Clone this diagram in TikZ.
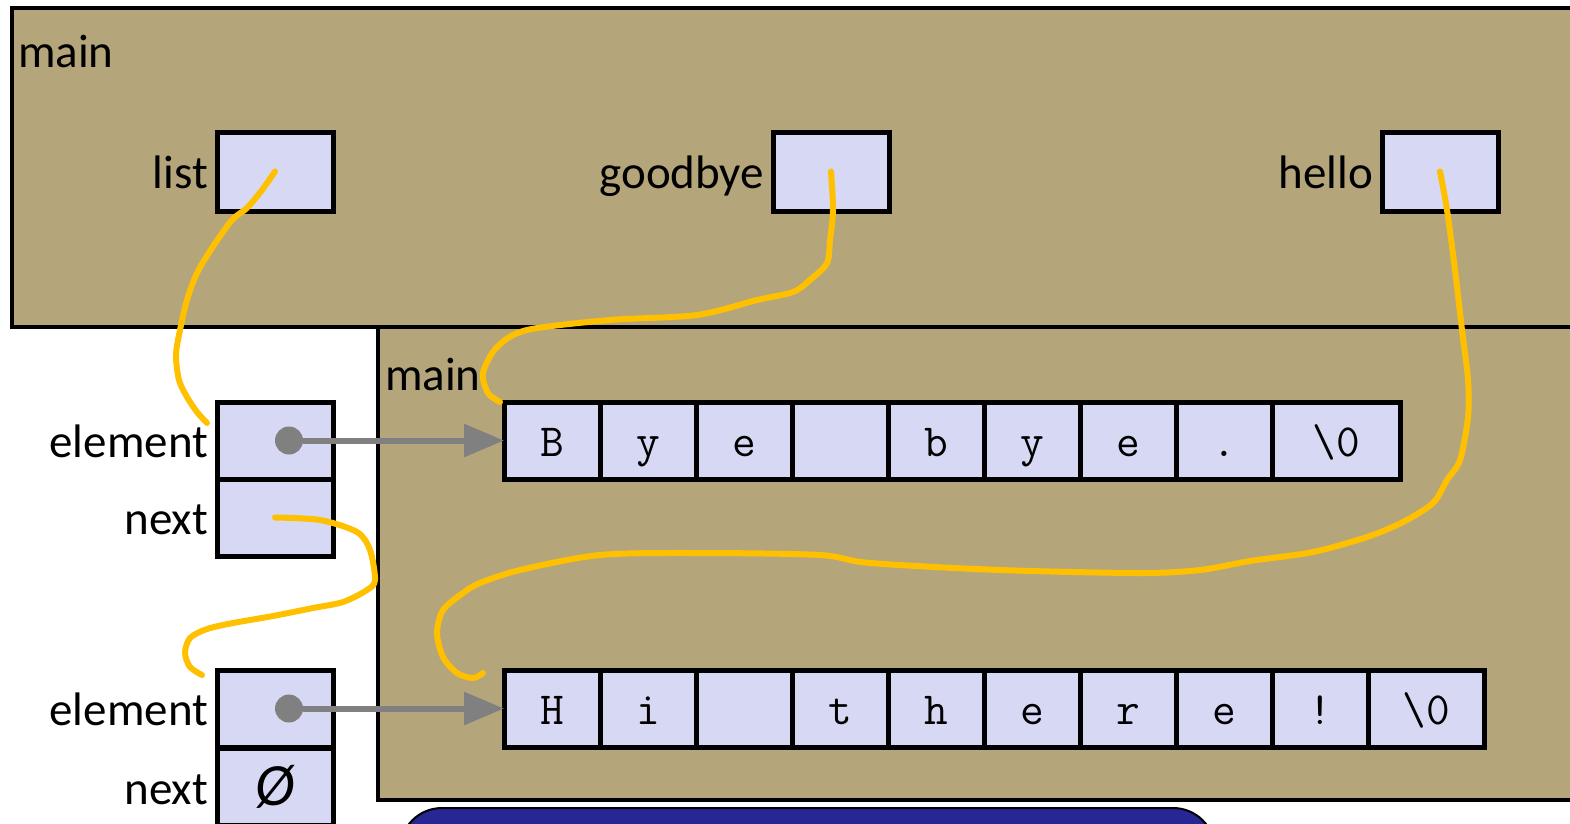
\documentclass[tikz,border=0pt]{standalone}
\usepackage{fontspec}
\setmainfont{Carlito}
\usetikzlibrary{arrows.meta}

\definecolor{framebg}{HTML}{B5A57A}
\definecolor{cellbg}{HTML}{D7D8F3}
\definecolor{ptrgrey}{HTML}{808080}
\definecolor{handgold}{HTML}{FFC000}
\definecolor{slideblue}{HTML}{262694}

\begin{document}
\begin{tikzpicture}[x=1pt, y=-1pt]
\path[use as bounding box, clip] (0,0) rectangle (1570,823);

\tikzset{every node/.style={inner sep=0pt, outer sep=0pt}}
\tikzset{frame/.style={draw, line width=3.5pt, fill=framebg}}
\tikzset{big/.style={font=\fontsize{47}{50}\selectfont}}
\tikzset{lbl/.style={big, text height=34pt, text depth=0pt, label distance=9pt}}
\tikzset{var/.style={draw, line width=5pt, fill=cellbg, minimum width=116pt, minimum height=79pt}}
\tikzset{field/.style={var, minimum height=77pt}}
\tikzset{cell/.style={draw, line width=5pt, fill=cellbg, minimum width=96pt, minimum height=77pt,
  font=\ttfamily\fontsize{46}{46}\selectfont, text height=40pt, text depth=9pt}}
\tikzset{dot/.style={circle, fill=ptrgrey, minimum size=28pt}}
\tikzset{ptr/.style={draw=ptrgrey, line width=6pt, -{Triangle[length=40pt,width=32pt]}}}
\tikzset{hand/.style={draw=handgold, line width=6pt, line cap=round, line join=round}}

% stack frames
\path[frame] (378,327) rectangle (1600,800);
\path[frame] (12,8) rectangle (1600,327);
\node[big, anchor=base west] (main1) at (18,67) {main};
\node[big, anchor=base west] (main2) at (385,390) {main};

\draw[line width=2pt, fill=slideblue, rounded corners=42pt] (400,808) rectangle (1215,900);

% locals
\node[var, label={[lbl]left:list}] (list) at (275,171.5) {};
\node[var, label={[lbl]left:goodbye}] (goodbye) at (831,171.5) {};
\node[var, label={[lbl]left:hello}] (hello) at (1440,171.5) {};

% list nodes
\node[field, label={[lbl]left:element}] (elem1) at (275,440.5) {};
\node[field, label={[lbl]left:next}] (next1) at (275,517.5) {};
\node[field, label={[lbl]left:element}] (elem2) at (275,708.5) {};
\node[field, label={[lbl]left:next}] (next2) at (275,787) {\fontsize{60}{60}\selectfont\itshape Ø};

% strings
\foreach \ch [count=\i] in {B,y,e,{},b,y,e,.}
  \node[cell] (bye-\i) at (456+96*\i,440.5) {\ch};
\node[cell, minimum width=128pt] (bye-9) at (1336,440.5) {\textbackslash 0};

\foreach \ch [count=\i] in {H,i,{},t,h,e,r,e,!}
  \node[cell] (hi-\i) at (456+96*\i,708.5) {\ch};
\node[cell, minimum width=116pt] (hi-10) at (1426,708.5) {\textbackslash 0};

\node[dot] (dot1) at (289,440.5) {};
\node[dot] (dot2) at (289,708.5) {};
\path (dot1) edge [ptr] (bye-1);
\path (dot2) edge [ptr] (hi-1);

% hand-drawn pointers
\coordinate (elemtip) at (207,423);
\coordinate (byetip) at (500,402);
\coordinate (hitip) at (483,673);
\coordinate (nexttip) at (202,675);

\draw[hand] plot[smooth, tension=0.5] coordinates {(list.center) (262,190) (247,208) (232,220)
  (212,248) (197,273) (187,300) (180,330) (176,355) (179,380) (187,397) (197,412) (elemtip)};
\draw[hand] plot[smooth, tension=0.5] coordinates {(goodbye.center) (833,210) (830,240)
  (827,263) (810,280) (793,292) (757,300) (697,315) (610,320) (527,330) (497,347) (483,373)
  (488,393) (byetip)};
\draw[hand] plot[smooth, tension=0.5] coordinates {(hello.center) (1447,210) (1455,270)
  (1462,330) (1468,380) (1468,417) (1460,460) (1447,480) (1433,503) (1403,522) (1367,537)
  (1313,552) (1250,561) (1200,570) (1140,573) (1000,570) (870,563) (820,555) (700,553)
  (600,555) (520,570) (480,583) (463,593) (443,610) (437,633) (443,657) (457,673) (473,678)
  (hitip)};
\draw[hand] plot[smooth, tension=0.5] coordinates {(next1.center) (320,520) (357,532)
  (370,550) (375,580) (367,590) (343,602) (313,608) (273,616) (233,623) (207,629) (190,638)
  (185,653) (190,667) (nexttip)};
\end{tikzpicture}
\end{document}
